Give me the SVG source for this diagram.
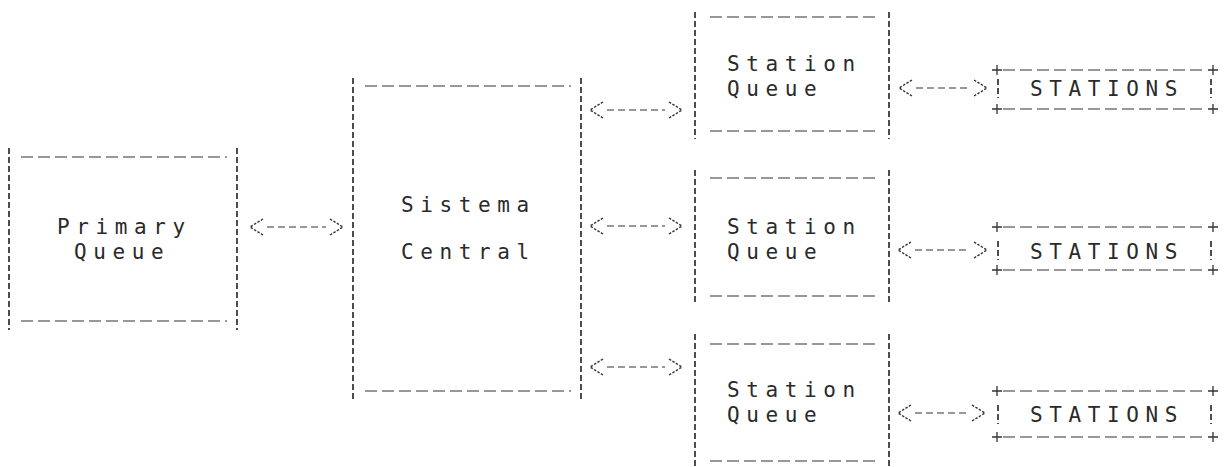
<svg xmlns="http://www.w3.org/2000/svg" width="1229" height="467" viewBox="0 0 1229 467">
<style>
.bg{fill:#ffffff}
.v{stroke:#222;stroke-width:1.6;stroke-dasharray:6 3;fill:none}
.h{stroke:#333;stroke-width:1.2;stroke-dasharray:12 5;fill:none}
.p{stroke:#333;stroke-width:1.3;fill:none}
.t{font-family:"DejaVu Sans Mono","Liberation Mono",monospace;font-size:21px;letter-spacing:6.6px;fill:#2a2a2a}
.c{stroke:#333;stroke-width:1.2;stroke-dasharray:7 4;fill:none;marker-start:url(#hd);marker-end:url(#hd)}
</style>
<defs>
<marker id="hd" markerUnits="userSpaceOnUse" markerWidth="14" markerHeight="18" refX="-4" refY="9" orient="auto-start-reverse" overflow="visible">
<path d="M0,1 L13,9 L0,17" fill="none" stroke="#333" stroke-width="1.4" stroke-dasharray="2.5 1.5"/>
</marker>
</defs>
<rect class="bg" x="0" y="0" width="1229" height="467"/>

<g id="node-primary-queue">
<line class="v" x1="9" y1="148" x2="9" y2="330"/>
<line class="v" x1="237" y1="148" x2="237" y2="330"/>
<line class="h" x1="21" y1="157" x2="227" y2="157"/>
<line class="h" x1="21" y1="321" x2="227" y2="321"/>
<text class="t" x="57" y="234">Primary</text>
<text class="t" x="74" y="259">Queue</text>
</g>

<g id="node-sistema-central">
<line class="v" x1="353" y1="78" x2="353" y2="400"/>
<line class="v" x1="581" y1="78" x2="581" y2="400"/>
<line class="h" x1="365" y1="86" x2="571" y2="86"/>
<line class="h" x1="365" y1="391" x2="571" y2="391"/>
<text class="t" x="401" y="212">Sistema</text>
<text class="t" x="401" y="259">Central</text>
</g>

<g id="node-station-queue-1">
<line class="v" x1="695" y1="12" x2="695" y2="139"/>
<line class="v" x1="889" y1="12" x2="889" y2="139"/>
<line class="h" x1="710" y1="17" x2="879" y2="17"/>
<line class="h" x1="710" y1="131" x2="879" y2="131"/>
<text class="t" x="727" y="71">Station</text>
<text class="t" x="727" y="96">Queue</text>
</g>

<g id="node-station-queue-2">
<line class="v" x1="695" y1="170" x2="695" y2="305"/>
<line class="v" x1="889" y1="170" x2="889" y2="305"/>
<line class="h" x1="710" y1="178" x2="879" y2="178"/>
<line class="h" x1="710" y1="296" x2="879" y2="296"/>
<text class="t" x="727" y="234">Station</text>
<text class="t" x="727" y="259">Queue</text>
</g>

<g id="node-station-queue-3">
<line class="v" x1="695" y1="334" x2="695" y2="467"/>
<line class="v" x1="889" y1="334" x2="889" y2="467"/>
<line class="h" x1="710" y1="344" x2="879" y2="344"/>
<line class="h" x1="710" y1="461" x2="879" y2="461"/>
<text class="t" x="727" y="397">Station</text>
<text class="t" x="727" y="422">Queue</text>
</g>

<g id="node-stations-1">
<line class="h" x1="1003" y1="70" x2="1207" y2="70"/>
<line class="h" x1="1003" y1="109" x2="1207" y2="109"/>
<path class="p" d="M992,70 h10 M997,65 v10 M1208,70 h10 M1213,65 v10 M992,109 h10 M997,104 v10 M1208,109 h10 M1213,104 v10"/>
<line class="v" x1="998" y1="79" x2="998" y2="98"/>
<line class="v" x1="1211" y1="79" x2="1211" y2="98"/>
<text class="t" x="1030" y="96">STATIONS</text>
</g>

<g id="node-stations-2">
<line class="h" x1="1003" y1="227" x2="1207" y2="227"/>
<line class="h" x1="1003" y1="270" x2="1207" y2="270"/>
<path class="p" d="M992,227 h10 M997,222 v10 M1208,227 h10 M1213,222 v10 M992,270 h10 M997,265 v10 M1208,270 h10 M1213,265 v10"/>
<line class="v" x1="998" y1="241" x2="998" y2="260"/>
<line class="v" x1="1211" y1="241" x2="1211" y2="260"/>
<text class="t" x="1030" y="259">STATIONS</text>
</g>

<g id="node-stations-3">
<line class="h" x1="1003" y1="391" x2="1207" y2="391"/>
<line class="h" x1="1003" y1="437" x2="1207" y2="437"/>
<path class="p" d="M992,391 h10 M997,386 v10 M1208,391 h10 M1213,386 v10 M992,437 h10 M997,432 v10 M1208,437 h10 M1213,432 v10"/>
<line class="v" x1="998" y1="405" x2="998" y2="424"/>
<line class="v" x1="1211" y1="405" x2="1211" y2="424"/>
<text class="t" x="1030" y="422">STATIONS</text>
</g>

<g id="connectors">
<line class="c" x1="267" y1="227" x2="326" y2="227"/>
<line class="c" x1="607" y1="110" x2="665" y2="110"/>
<line class="c" x1="607" y1="226" x2="665" y2="226"/>
<line class="c" x1="607" y1="367" x2="665" y2="367"/>
<line class="c" x1="916" y1="88" x2="970" y2="88"/>
<line class="c" x1="915" y1="250" x2="970" y2="250"/>
<line class="c" x1="915" y1="413" x2="968" y2="413"/>
</g>
</svg>
